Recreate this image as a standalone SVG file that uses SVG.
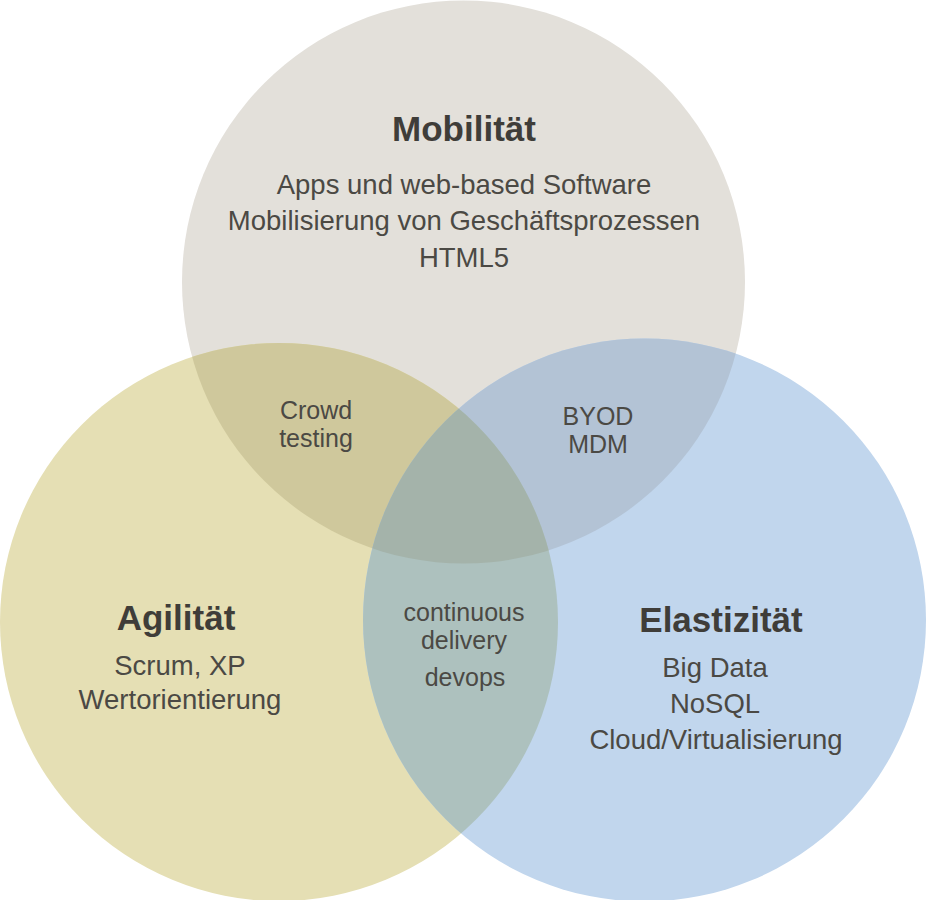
<svg xmlns="http://www.w3.org/2000/svg" width="926" height="900" viewBox="0 0 926 900">
<style>
.t{font-family:"Liberation Sans",Arial,sans-serif;fill:#4b4944;text-anchor:middle;font-size:27.5px}
.s{font-size:25px}
.h{font-family:"Liberation Sans",Arial,sans-serif;fill:#3f3d39;text-anchor:middle;font-size:35px;font-weight:bold}
</style>
<defs>
<circle id="cT" cx="463.5" cy="282" r="281.5"/>
<circle id="cL" cx="279" cy="622" r="279"/>
<circle id="cR" cx="644.5" cy="620" r="281.5"/>
<clipPath id="clipT"><use href="#cT"/></clipPath>
<clipPath id="clipL"><use href="#cL"/></clipPath>
<clipPath id="clipR"><use href="#cR"/></clipPath>
</defs>
<rect width="926" height="900" fill="#ffffff"/>
<g id="mobilitaet">
<use href="#cT" fill="#e3e0da"/>
</g>
<g id="agilitaet">
<use href="#cL" fill="#e5dfb4"/>
</g>
<g id="elastizitaet">
<use href="#cR" fill="#c1d6ed"/>
</g>
<g id="crowd-testing">
<g clip-path="url(#clipT)"><use href="#cL" fill="#cfc89c"/></g>
</g>
<g id="byod-mdm">
<g clip-path="url(#clipT)"><use href="#cR" fill="#b3c3d5"/></g>
</g>
<g id="continuous-delivery">
<g clip-path="url(#clipL)"><use href="#cR" fill="#adc1be"/></g>
<g clip-path="url(#clipT)"><g clip-path="url(#clipL)"><use href="#cR" fill="#a4b3aa"/></g></g>
</g>
<g id="labels">
<text class="h" x="464" y="141">Mobilität</text>
<text class="t" x="464" y="194">Apps und web-based Software</text>
<text class="t" x="464" y="230">Mobilisierung von Geschäftsprozessen</text>
<text class="t" x="464" y="267">HTML5</text>
<text class="t s" x="316" y="419">Crowd</text>
<text class="t s" x="316" y="447">testing</text>
<text class="t s" x="598" y="425">BYOD</text>
<text class="t s" x="598" y="453">MDM</text>
<text class="h" x="176" y="630">Agilität</text>
<text class="t" x="180" y="675">Scrum, XP</text>
<text class="t" x="180" y="709">Wertorientierung</text>
<text class="t s" x="464" y="621">continuous</text>
<text class="t s" x="464" y="649">delivery</text>
<text class="t s" x="465" y="686">devops</text>
<text class="h" x="721" y="632">Elastizität</text>
<text class="t" x="715" y="677">Big Data</text>
<text class="t" x="715" y="713">NoSQL</text>
<text class="t" x="716" y="749">Cloud/Virtualisierung</text>
</g>
</svg>
